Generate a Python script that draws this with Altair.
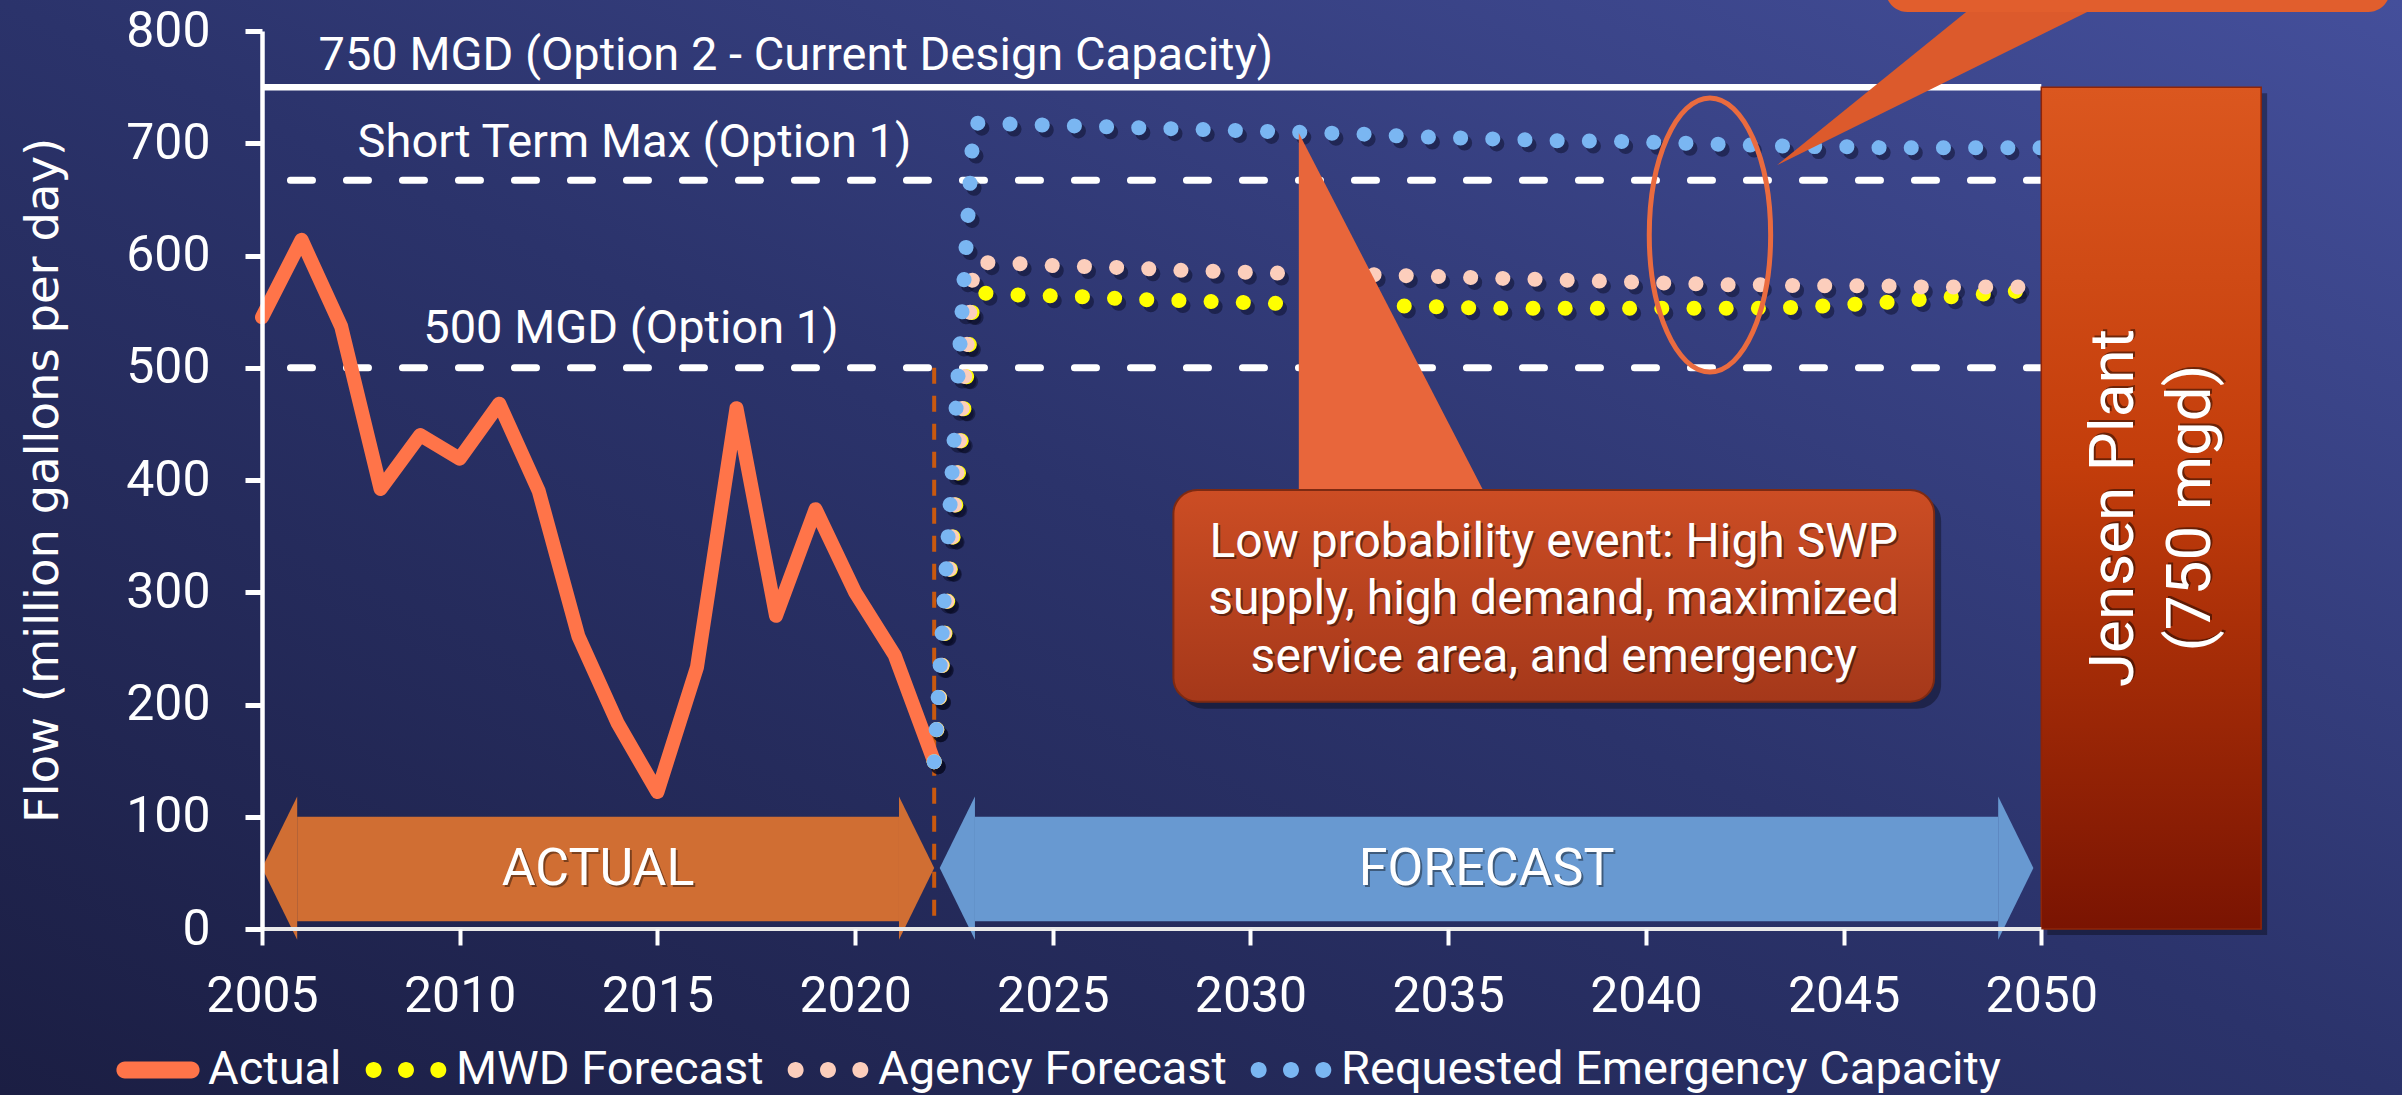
import altair as alt
import pandas as pd

# ------------------------------------------------------------------ data
ACTUAL_YEARS = list(range(2005, 2023))
ACTUAL_FLOW = [545, 614, 537, 392, 440, 419, 468, 390, 261, 183,
               122, 233, 464, 279, 374, 300, 244, 149]

FORECAST_YEARS = list(range(2022, 2051))
MWD_FORECAST = [149, 567, 565, 564, 563, 561, 560, 559, 558, 557,
                556, 555, 555, 554, 553, 553, 553, 553, 553, 553,
                553, 553, 554, 556, 558, 561, 564, 567, 570]
AGENCY_FORECAST = [149, 594, 593, 591, 590, 589, 587, 586, 585, 584,
                   583, 583, 582, 581, 580, 579, 578, 577, 576, 575,
                   574, 574, 573, 573, 573, 572, 572, 572, 572]
EMERGENCY_CAPACITY = [149, 718, 717, 716, 715, 714, 713, 712, 711, 710,
                      709, 708, 706, 705, 704, 703, 702, 702, 701, 700,
                      699, 698, 697, 697, 696, 696, 696, 696, 696]

SERIES = ["Actual", "MWD Forecast", "Agency Forecast",
          "Requested Emergency Capacity"]

DESIGN_CAPACITY = 750
SHORT_TERM_MAX = 667
OPTION1_CAPACITY = 500
CAPACITY_LABELS = ["750 MGD (Option 2 - Current Design Capacity)",
                   "Short Term Max (Option 1)",
                   "500 MGD (Option 1)"]

FIRST_YEAR, LAST_YEAR = 2005, 2050
FORECAST_START = 2022
PLANT_LABEL = ["Jensen Plant", "(750 mgd)"]
CALLOUT_LABEL = ["Low probability event: High SWP",
                 "supply, high demand, maximized",
                 "service area, and emergency"]

X_TICKS = list(range(2005, 2051, 5))
Y_TICKS = list(range(0, 801, 100))

# ------------------------------------------------------------------ styling
SERIES_COLORS = ["#ff7449", "#ffff00", "#fccebc", "#7ab6f2"]
WHITE = "#ffffff"

PLOT_W, PLOT_H = 2140, 898
PAD = {"left": 262, "top": 31, "right": 0, "bottom": 166}
YEAR_PX = 39.54
X_DOMAIN = [FIRST_YEAR, FIRST_YEAR + PLOT_W / YEAR_PX]
Y_DOMAIN = [0, 800]

x_scale = alt.Scale(domain=X_DOMAIN, nice=False, zero=False)
y_scale = alt.Scale(domain=Y_DOMAIN, nice=False)

x_axis = alt.Axis(values=X_TICKS, format="d", domain=False, grid=False,
                  tickColor=WHITE, tickSize=16, tickWidth=4,
                  labelColor=WHITE, labelFont="Roboto", labelFontSize=50,
                  labelPadding=26, labelFlush=False, labelOverlap=False,
                  title=None, zindex=1)
y_axis = alt.Axis(values=Y_TICKS, grid=False, domainColor=WHITE,
                  domainWidth=4.5, tickColor=WHITE, tickSize=17, tickWidth=5,
                  labelColor=WHITE, labelFont="Roboto", labelFontSize=50,
                  labelPadding=35, title="Flow (million gallons per day)",
                  titleColor=WHITE, titleFont="DejaVu Sans", titleFontSize=46.5,
                  titleFontWeight="normal", titleAngle=270,
                  titleAlign="center", titleBaseline="middle",
                  titleX=-219, titleY=449, zindex=1)


def X(field):
    return alt.X(field=field, type="quantitative", scale=x_scale, axis=x_axis)


def Y(field):
    return alt.Y(field=field, type="quantitative", scale=y_scale, axis=y_axis)


def vgrad(top, bottom):
    return alt.LinearGradient(
        gradient="linear", x1=0, y1=0, x2=0, y2=1,
        stops=[alt.GradientStop(color=top, offset=0),
               alt.GradientStop(color=bottom, offset=1)])


def one(**cols):
    return pd.DataFrame({k: [v] for k, v in cols.items()})


def rect(df, **mark):
    return (alt.Chart(df).mark_rect(**mark)
            .encode(x=X("x0"), x2=alt.X2(field="x1"),
                    y=Y("y0"), y2=alt.Y2(field="y1")))


def glyph(df, path, size, color):
    # filled custom-path symbol anchored at a data point
    return (alt.Chart(df)
            .mark_point(shape=path, size=size, filled=True, color=color,
                        opacity=1, strokeWidth=0)
            .encode(x=X("x"), y=Y("y")))


layers = []

# slide background
bg_grad = alt.LinearGradient(
    gradient="linear", x1=0, y1=1, x2=1, y2=0,
    stops=[alt.GradientStop(color="#1b1e43", offset=0),
           alt.GradientStop(color="#2b336b", offset=0.5),
           alt.GradientStop(color="#444f9b", offset=1)])
layers.append(
    alt.Chart(one(k=0)).mark_rect(color=bg_grad).encode(
        x=alt.value(-PAD["left"]), x2=alt.value(PLOT_W + PAD["right"]),
        y=alt.value(-PAD["top"]), y2=alt.value(PLOT_H + PAD["bottom"])))

# capacity reference lines
layers.append(
    alt.Chart(one(flow=DESIGN_CAPACITY, x0=FIRST_YEAR, x1=LAST_YEAR))
    .mark_rule(color=WHITE, strokeWidth=6.5)
    .encode(x=X("x0"), x2=alt.X2(field="x1"), y=Y("flow")))
dashed_df = pd.DataFrame({"flow": [SHORT_TERM_MAX, OPTION1_CAPACITY],
                          "x0": [2005.72, 2005.72],
                          "x1": [LAST_YEAR, LAST_YEAR]})
layers.append(
    alt.Chart(dashed_df)
    .mark_rule(color=WHITE, strokeWidth=7, strokeDash=[22, 34],
               strokeCap="round")
    .encode(x=X("x0"), x2=alt.X2(field="x1"), y=Y("flow")))
cap_label_df = pd.DataFrame({"x": [2018.5, 2014.42, 2014.33],
                             "y": [765.3, 687.5, 521.8],
                             "label": CAPACITY_LABELS})
layers.append(
    alt.Chart(cap_label_df)
    .mark_text(color=WHITE, font="Roboto", fontSize=47, align="center",
               baseline="alphabetic")
    .encode(x=X("x"), y=Y("y"), text="label:N"))

# actual / forecast divider
layers.append(
    alt.Chart(one(x=FORECAST_START, y0=0, y1=OPTION1_CAPACITY))
    .mark_rule(color="#c9590f", strokeWidth=4, strokeDash=[16, 12])
    .encode(x=X("x"), y=Y("y1"), y2=alt.Y2(field="y0")))

# double-headed period arrows: a body plus two triangular heads
HEAD_YEARS = 0.89
BODY = (7, 100)
HEAD_SPAN = (-9.5, 118)
HEAD_SIZE = 143.1 ** 2
LEFT_HEAD = "M-0.246,0L0.246,-1L0.246,1Z"
RIGHT_HEAD = "M0.246,0L-0.246,-1L-0.246,1Z"
head_mid = sum(HEAD_SPAN) / 2

for (x0, x1), label, color in [
        ((FIRST_YEAR, FORECAST_START), "ACTUAL", "#d06e33"),
        ((2022.14, 2049.8), "FORECAST", "#6899d1")]:
    layers.append(rect(one(x0=x0 + HEAD_YEARS, x1=x1 - HEAD_YEARS,
                           y0=BODY[0], y1=BODY[1]), color=color))
    layers.append(glyph(one(x=x0 + HEAD_YEARS / 2, y=head_mid),
                        LEFT_HEAD, HEAD_SIZE, color))
    layers.append(glyph(one(x=x1 - HEAD_YEARS / 2, y=head_mid),
                        RIGHT_HEAD, HEAD_SIZE, color))
    lab = one(x=(x0 + x1) / 2, y=53.5, label=label)
    layers.append(
        alt.Chart(lab).mark_text(color="#000000", opacity=0.4, font="Roboto",
                                 fontSize=52, dx=2, dy=2, baseline="middle")
        .encode(x=X("x"), y=Y("y"), text="label:N"))
    layers.append(
        alt.Chart(lab).mark_text(color=WHITE, font="Roboto", fontSize=52,
                                 baseline="middle")
        .encode(x=X("x"), y=Y("y"), text="label:N"))

# actual flow
actual_df = pd.DataFrame({"year": ACTUAL_YEARS, "flow": ACTUAL_FLOW})
layers.append(
    alt.Chart(actual_df)
    .mark_line(color=SERIES_COLORS[0], strokeWidth=14, strokeCap="round",
               strokeJoin="round")
    .encode(x=X("year"), y=Y("flow")))

# forecasts drawn as dotted lines with a soft drop shadow
forecast_df = pd.DataFrame({"year": FORECAST_YEARS, "mwd": MWD_FORECAST,
                            "agency": AGENCY_FORECAST,
                            "emergency": EMERGENCY_CAPACITY})
DOTS = [0.1, 32.1]
for col in ["mwd", "agency", "emergency"]:
    layers.append(
        alt.Chart(forecast_df)
        .mark_line(color="#070920", opacity=0.45, strokeWidth=15,
                   strokeCap="round", strokeDash=DOTS, xOffset=4, yOffset=5)
        .encode(x=X("year"), y=Y(col)))
for col, color in zip(["mwd", "agency", "emergency"], SERIES_COLORS[1:]):
    layers.append(
        alt.Chart(forecast_df)
        .mark_line(color=color, strokeWidth=15, strokeCap="round",
                   strokeDash=DOTS)
        .encode(x=X("year"), y=Y(col)))

# callout for the emergency scenario
box = one(x0=2028.05, x1=2047.29, y0=202.5, y1=391.1)
layers.append(rect(box, color="#000000", opacity=0.35, cornerRadius=24,
                   xOffset=7, x2Offset=7, yOffset=7, y2Offset=7))
layers.append(glyph(one(x=2033.595, y=547.1),
                    "M-0.516,-1L-0.516,1L0.516,1Z", 363.8 ** 2, "#e8663b"))
layers.append(rect(box, color=vgrad("#cc4d24", "#a5381a"), cornerRadius=24,
                   stroke="#7d2a12", strokeWidth=2))
callout = one(x=2037.67, y=331.7)
layers.append(
    alt.Chart(callout)
    .mark_text(text=CALLOUT_LABEL, color="#000000", opacity=0.45,
               font="Roboto", fontSize=48, lineHeight=57.5, align="center",
               baseline="alphabetic", dx=2, dy=2)
    .encode(x=X("x"), y=Y("y")))
layers.append(
    alt.Chart(callout)
    .mark_text(text=CALLOUT_LABEL, color=WHITE, font="Roboto", fontSize=48,
               lineHeight=57.5, align="center", baseline="alphabetic")
    .encode(x=X("x"), y=Y("y")))

# highlight ring around the forecasts near 2041
ELLIPSE = "M0,-1A0.443,1,0,1,1,0,1A0.443,1,0,1,1,0,-1Z"
layers.append(
    alt.Chart(one(x=2041.62, y=618.3))
    .mark_point(shape=ELLIPSE, size=75076, filled=False, stroke="#ea6b3f",
                strokeWidth=5, opacity=1)
    .encode(x=X("x"), y=Y("y")))

# Jensen plant capacity bar
plant = one(x0=LAST_YEAR, x1=2055.56, y0=0, y1=DESIGN_CAPACITY)
layers.append(rect(plant, color="#000000", opacity=0.35, xOffset=6,
                   x2Offset=6, yOffset=6, y2Offset=6))
plant_grad = alt.LinearGradient(
    gradient="linear", x1=0, y1=0, x2=0, y2=1,
    stops=[alt.GradientStop(color="#db571f", offset=0),
           alt.GradientStop(color="#c33d0b", offset=0.45),
           alt.GradientStop(color="#7a1402", offset=1)])
layers.append(rect(plant, color=plant_grad, stroke="#8e2408", strokeWidth=1.5))
plant_lab = one(x=2052.32, y=DESIGN_CAPACITY / 2)
layers.append(
    alt.Chart(plant_lab)
    .mark_text(text=PLANT_LABEL, color="#000000", opacity=0.45, font="Roboto",
               fontSize=62, lineHeight=77, angle=270, align="center",
               baseline="alphabetic", dx=2, dy=2)
    .encode(x=X("x"), y=Y("y")))
layers.append(
    alt.Chart(plant_lab)
    .mark_text(text=PLANT_LABEL, color=WHITE, font="Roboto", fontSize=62,
               lineHeight=77, angle=270, align="center", baseline="alphabetic")
    .encode(x=X("x"), y=Y("y")))

# second callout entering from the top edge
layers.append(glyph(one(x=2047.24, y=748.8),
                    "M-1,0.494L0.219,-0.494L1,-0.494Z", 310.0 ** 2, "#dc5a2c"))
layers.append(rect(one(x0=2046.06, x1=2058.82, y0=816.9, y1=880),
                   color="#e15e2d", cornerRadius=22))

# x-axis baseline, stopping at 2050
layers.append(
    alt.Chart(one(x0=FIRST_YEAR, x1=LAST_YEAR, y=0))
    .mark_rule(color="#e9e9e9", strokeWidth=4)
    .encode(x=X("x0"), x2=alt.X2(field="x1"), y=Y("y")))

# legend
BAR_SYMBOL = ("M-0.79,-0.2L0.79,-0.2A0.2,0.2,0,0,1,0.79,0.2"
              "L-0.79,0.2A0.2,0.2,0,0,1,-0.79,-0.2Z")


def dot(cx, r=0.19):
    return (f"M{cx - r:.3f},0A{r},{r},0,1,0,{cx + r:.3f},0"
            f"A{r},{r},0,1,0,{cx - r:.3f},0Z")


DOT_SYMBOL = "".join(dot(c) for c in (-0.77, 0.0, 0.77))
LEGEND_SHAPES = [BAR_SYMBOL, DOT_SYMBOL, DOT_SYMBOL, DOT_SYMBOL]

legend_def = alt.Legend(title=None, orient="none", legendX=-146, legendY=997,
                        direction="horizontal", labelColor=WHITE,
                        labelFont="Roboto", labelFontSize=47, labelLimit=0,
                        labelOffset=8, columnPadding=22, symbolSize=7056,
                        symbolStrokeWidth=0, symbolOpacity=1, padding=0)
legend_df = pd.DataFrame({"series": SERIES, "year": [FIRST_YEAR] * 4,
                          "flow": [0] * 4})
layers.append(
    alt.Chart(legend_df).transform_filter("false")
    .mark_point(filled=True)
    .encode(x=X("year"), y=Y("flow"),
            color=alt.Color("series:N", scale=alt.Scale(domain=SERIES,
                                                        range=SERIES_COLORS),
                            legend=legend_def),
            shape=alt.Shape("series:N", scale=alt.Scale(domain=SERIES,
                                                        range=LEGEND_SHAPES),
                            legend=legend_def)))

chart = alt.layer(*layers).properties(
    width=PLOT_W, height=PLOT_H, padding=PAD,
    autosize=alt.AutoSizeParams(type="none"), background="#232a58",
).configure(font="Roboto", view=alt.ViewConfig(stroke=None))

chart.save("out.html", embed_options={"renderer": "svg", "actions": False})
